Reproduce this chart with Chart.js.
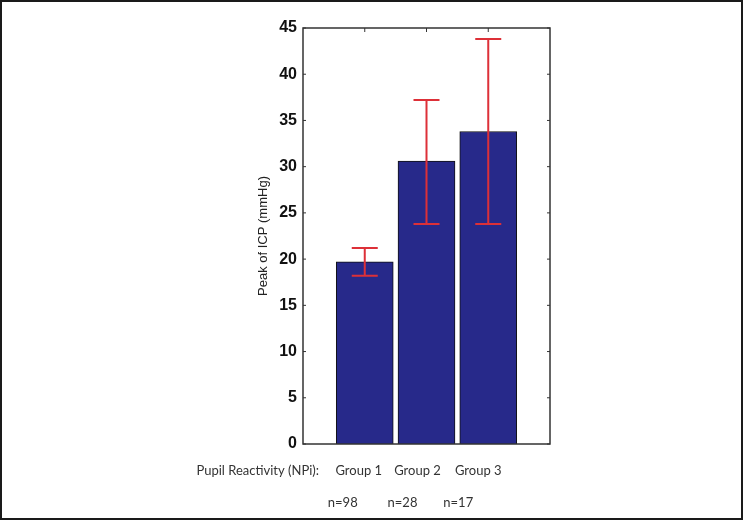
<!DOCTYPE html>
<html>
<head>
<meta charset="utf-8">
<script src="https://cdn.jsdelivr.net/npm/chart.js@4/dist/chart.umd.min.js"></script>
<style>
  html, body { margin: 0; padding: 0; background: #fff; }
  #wrap { width: 743px; height: 520px; position: relative; }
</style>
</head>
<body>
<div id="wrap"><canvas id="chart" width="743" height="520"></canvas></div>
<script>
'use strict';

// data
const groups = ['Group 1', 'Group 2', 'Group 3'];
const groupPos = [1, 2, 3];
const nLabels = ['n=98', 'n=28', 'n=17'];
const peakICP = [19.7, 30.6, 33.8];
const errLow = [18.2, 23.8, 23.8];
const errHigh = [21.2, 37.2, 43.8];
const yTicks = [0, 5, 10, 15, 20, 25, 30, 35, 40, 45];

const BAR_COLOR = '#27298a';
const ERR_COLOR = '#dd3038';

// MATLAB style box with inward ticks + error bars + bottom annotations
const extrasPlugin = {
  id: 'extras',
  afterDatasetsDraw(chart) {
    const { ctx, chartArea: a, scales: { x, y } } = chart;
    ctx.save();

    // error bars
    ctx.strokeStyle = ERR_COLOR;
    ctx.lineWidth = 2;
    groupPos.forEach((p, i) => {
      const cx = x.getPixelForValue(p);
      const yl = y.getPixelForValue(errLow[i]);
      const yh = y.getPixelForValue(errHigh[i]);
      ctx.beginPath();
      ctx.moveTo(cx, yl); ctx.lineTo(cx, yh);
      ctx.moveTo(cx - 13, yl); ctx.lineTo(cx + 13, yl);
      ctx.moveTo(cx - 13, yh); ctx.lineTo(cx + 13, yh);
      ctx.stroke();
    });

    // axes box
    ctx.strokeStyle = '#333';
    ctx.lineWidth = 1.5;
    ctx.strokeRect(a.left, a.top, a.right - a.left, a.bottom - a.top);

    // inward ticks
    ctx.lineWidth = 1;
    ctx.beginPath();
    yTicks.forEach(v => {
      const py = y.getPixelForValue(v);
      ctx.moveTo(a.left, py); ctx.lineTo(a.left + 3, py);
      ctx.moveTo(a.right, py); ctx.lineTo(a.right - 3, py);
    });
    groupPos.forEach(p => {
      const px = x.getPixelForValue(p);
      ctx.moveTo(px, a.top); ctx.lineTo(px, a.top + 4);
    });
    ctx.stroke();

    // bottom text
    ctx.fillStyle = '#333';
    ctx.font = '13px Lato, "Open Sans", sans-serif';
    ctx.textBaseline = 'middle';
    ctx.textAlign = 'right';
    ctx.fillText('Pupil Reactivity (NPi):', a.left + 16, 471);
    ctx.textAlign = 'center';
    const gShift = [-6, -9, -10];
    const nShift = [-22, -24, -30];
    groupPos.forEach((p, i) => {
      const px = x.getPixelForValue(p);
      ctx.fillText(groups[i], px + gShift[i], 471);
      ctx.fillText(nLabels[i], px + nShift[i], 503);
    });

    // image frame
    ctx.strokeStyle = '#1a1a1a';
    ctx.lineWidth = 2;
    ctx.strokeRect(1, 1, chart.width - 2, chart.height - 2);
    ctx.restore();
  }
};

new Chart(document.getElementById('chart'), {
  type: 'bar',
  data: {
    datasets: [{
      data: groupPos.map((p, i) => ({ x: p, y: peakICP[i] })),
      backgroundColor: BAR_COLOR,
      borderColor: '#111',
      borderWidth: 1,
      barThickness: 57,
    }],
  },
  options: {
    responsive: false,
    animation: false,
    layout: { padding: { left: 254, right: 193, top: 28, bottom: 76 } },
    plugins: { legend: { display: false }, tooltip: { enabled: false } },
    scales: {
      x: {
        type: 'linear',
        min: 0,
        max: 4,
        offset: false,
        display: false,
        ticks: { stepSize: 1 },
      },
      y: {
        min: 0,
        max: 45,
        afterFit: (s) => { s.width = 49; },
        afterBuildTicks: (s) => { s.ticks = yTicks.map(v => ({ value: v })); },
        grid: { display: false, drawTicks: false },
        border: { display: false },
        ticks: {
          padding: 6,
          color: '#111',
          font: { family: 'Liberation Sans, Arial, sans-serif', size: 16, weight: 'bold' },
        },
        title: {
          display: true,
          text: 'Peak of ICP (mmHg)',
          color: '#222',
          padding: 2,
          font: { family: 'Liberation Sans, Arial, sans-serif', size: 13 },
        },
      },
    },
  },
  plugins: [extrasPlugin],
});
</script>
</body>
</html>
